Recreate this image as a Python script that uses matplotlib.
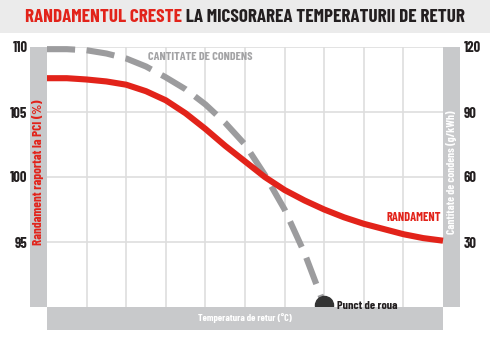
import matplotlib
matplotlib.use("Agg")
import matplotlib.pyplot as plt
from matplotlib.patches import Rectangle

# ---------------- data ----------------
temps_red = [20, 22.5, 25, 27.5, 30, 32.5, 35, 37.5, 40, 42.5, 45, 47.5, 50,
             52.5, 55, 57.5, 60, 62.5, 65, 67.5, 70]
randament = [107.6, 107.6, 107.5, 107.35, 107.1, 106.6, 105.9, 104.9, 103.7,
             102.4, 101.2, 100.0, 99.0, 98.2, 97.5, 96.9, 96.4, 96.0, 95.6,
             95.3, 95.1]
temps_cond = [20, 22.5, 25, 27.5, 30, 32.5, 35, 37.5, 40, 42.5, 45, 47.5, 50,
              52.5, 55]
condens = [119, 119, 118.5, 117, 114.7, 111, 106, 100.5, 93.5, 85, 75, 61,
           45, 25, 1]
dew_point = (55, 1)
x_ticks = [20, 30, 40, 50, 60, 70]
left_ticks = [95, 100, 105, 110]
right_ticks = [30, 60, 90, 120]

title_red = "RANDAMENTUL CRESTE"
title_dark = " LA MICSORAREA TEMPERATURII DE RETUR"
left_label = "Randament raportat la PCI (%)"
right_label = "Cantitate de condens (g/kWh)"
x_label = "Temperatura de retur (°C)"
cond_label = "CANTITATE DE CONDENS"
rand_label = "RANDAMENT"
dew_label = "Punct de roua"

# ---------------- style ----------------
RED = "#e2231a"
GRAY_LINE = "#9c9c9e"
BAND = "#c8c9cb"
GRID = "#dedede"
DARK = "#231f20"
FONT = ["Barlow Condensed", "Liberation Sans Narrow", "DejaVu Sans"]
plt.rcParams["font.family"] = FONT
plt.rcParams["font.stretch"] = "condensed"
plt.rcParams["font.weight"] = "bold"

W, H = 490, 350
fig = plt.figure(figsize=(W / 100, H / 100), dpi=100)
fig.patch.set_facecolor("white")


def fx(px):
    return px / W


def fy(py):
    return 1 - py / H


# title band
fig.patches.append(Rectangle((0, fy(33)), 1, 33 / H, transform=fig.transFigure,
                             facecolor="#ebebeb", edgecolor="none", zorder=0))

# axes area (pixels 47..443 x 47..307)
L, R, T, B = 47, 443, 47, 307
ax2 = fig.add_axes([fx(L), fy(B), fx(R - L), (B - T) / H])
ax = ax2.twinx()
ax.set_zorder(ax2.get_zorder() + 1)
ax.patch.set_visible(False)

ax.set_xlim(20, 70)
ax2.set_xlim(20, 70)
ax.set_ylim(90, 110)
ax2.set_ylim(0, 120)

# bands
for (x0, y0, x1, y1) in [(30, 47, 47, 307), (47, 307, 443, 330), (443, 47, 460, 307)]:
    fig.patches.append(Rectangle((fx(x0), fy(y1)), fx(x1 - x0), (y1 - y0) / H,
                                 transform=fig.transFigure, facecolor=BAND,
                                 edgecolor="none", zorder=0))

# grid on ax2 (below)
for x in range(25, 70, 5):
    ax2.axvline(x, color=GRID, lw=1.2, zorder=0)
for y in right_ticks:
    ax2.axhline(y, color=GRID, lw=1.2, zorder=0)

# condensate dashed line
ln, = ax2.plot(temps_cond, condens, color=GRAY_LINE, lw=4.4, clip_on=False,
               solid_capstyle="butt", dash_capstyle="butt", zorder=2)
ln.set_dashes([4.6, 1.9])
ax2.plot([dew_point[0]], [dew_point[1]], "o", ms=13, color="#333333",
         clip_on=False, zorder=5)

# randament line
ax.plot(temps_red, randament, color=RED, lw=4.4, clip_on=False,
        solid_capstyle="butt", zorder=3)

# spines / ticks
for a in (ax, ax2):
    for s in a.spines.values():
        s.set_visible(False)
    a.tick_params(length=0)

TICKFS = 10.5
ax2.set_xticks(x_ticks)
ax2.set_xticklabels([str(v) for v in x_ticks], fontsize=TICKFS,
                    fontweight="bold", color=DARK)
ax2.tick_params(axis="x", pad=18)
ax.set_xticks([])

ax2.yaxis.set_ticks_position("left")
ax2.set_yticks(right_ticks)
ax2.set_yticklabels([str(v) for v in left_ticks], fontsize=TICKFS,
                    fontweight="bold", color=DARK)
ax2.tick_params(axis="y", pad=14)
ax.yaxis.set_ticks_position("right")
ax.set_yticks(left_ticks)
ax.set_yticklabels([str(v) for v in right_ticks], fontsize=TICKFS,
                   fontweight="bold", color=DARK)
ax.tick_params(axis="y", pad=15)

fig.canvas.draw()
renderer = fig.canvas.get_renderer()


def fit(t, target, vertical=False):
    bb = t.get_window_extent(renderer)
    cur = bb.height if vertical else bb.width
    t.set_fontsize(t.get_fontsize() * target / cur)


# title
t1 = fig.text(0, fy(18), title_red, color=RED, fontsize=14, fontweight="bold",
              va="center", ha="left")
t2 = fig.text(0, fy(18), title_dark, color=DARK, fontsize=14, fontweight="bold",
              va="center", ha="left")
w1 = t1.get_window_extent(renderer).width
w2 = t2.get_window_extent(renderer).width
scale = 440 / (w1 + w2)
t1.set_fontsize(14 * scale)
t2.set_fontsize(14 * scale)
w1 *= scale
t1.set_x(fx(25))
t2.set_x(fx(25 + w1))

# axis labels in bands
tl = fig.text(fx(38.5), fy(172), left_label, rotation=90, color=RED,
              fontsize=8, fontweight="bold", ha="center", va="center")
fit(tl, 147, vertical=True)
tr = fig.text(fx(451.5), fy(172), right_label, rotation=90, color="white",
              fontsize=8, fontweight="bold", ha="center", va="center")
fit(tr, 125, vertical=True)
tx = fig.text(fx(245), fy(318.5), x_label, color="white", fontsize=8,
              fontweight="bold", ha="center", va="center")
fit(tx, 94)

# series labels
tc = ax.text(32.7, 109.2, cond_label, color="#a3a3a5", fontsize=8,
             fontweight="bold", ha="left", va="center")
fit(tc, 105)
trd = ax.text(69.8, 96.85, rand_label, color=RED, fontsize=8,
              fontweight="bold", ha="right", va="center")
fit(trd, 55)
td = ax.text(56.6, 90.1, dew_label, color=DARK, fontsize=8,
             fontweight="bold", ha="left", va="center", clip_on=False)
fit(td, 61)

fig.savefig("out.png", dpi=100, facecolor="white")
